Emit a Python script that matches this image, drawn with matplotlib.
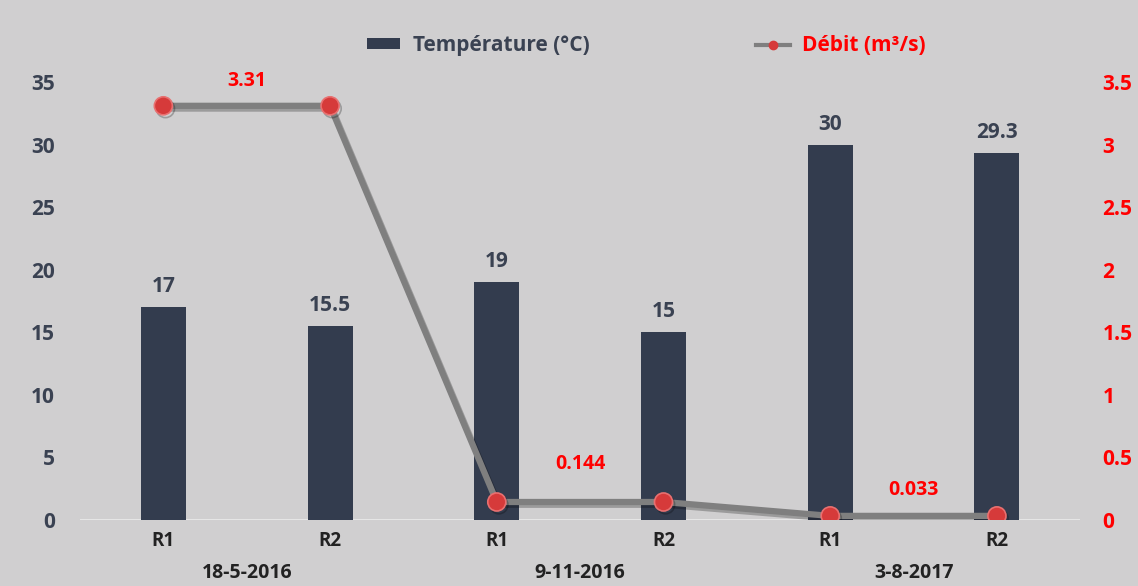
import matplotlib.pyplot as plt
import matplotlib.patheffects as pe
from matplotlib.lines import Line2D
from matplotlib.patches import Patch

plt.rcParams['font.family'] = ['Open Sans', 'DejaVu Sans']

sites = ['R1', 'R2', 'R1', 'R2', 'R1', 'R2']
dates = ['18-5-2016', '9-11-2016', '3-8-2017']
temperature = [17, 15.5, 19, 15, 30, 29.3]
debit = [3.31, 3.31, 0.144, 0.144, 0.033, 0.033]
debit_labels = ['3.31', '0.144', '0.033']

bg = '#d0cfd0'
bar_color = '#333c4e'
red = '#ff0000'
dark = '#3a4252'

fig = plt.figure(figsize=(11.38, 5.86), dpi=100, facecolor=bg)
ax = fig.add_axes([0.0703, 0.1126, 0.879, 0.7474], facecolor=bg)
ax2 = ax.twinx()

x = list(range(len(sites)))
ax.bar(x, temperature, width=0.27, color=bar_color, zorder=2)
for xi, v in zip(x, temperature):
    ax.text(xi, v + 0.8, f'{v:g}', ha='center', va='bottom', fontsize=15,
            fontweight='bold', color=dark)

ax.set_xlim(-0.5, 5.5)
ax.set_ylim(0, 35)
ax.set_yticks(range(0, 36, 5))
ax.axhline(0, color='#e6e6e6', lw=1.5, zorder=1)
for s in ax.spines.values():
    s.set_visible(False)
for s in ax2.spines.values():
    s.set_visible(False)
ax.tick_params(axis='y', length=0, pad=18, labelsize=15, labelcolor=dark)
for t in ax.get_yticklabels():
    t.set_fontweight('bold')
ax.set_xticks(x)
ax.set_xticklabels(sites, fontsize=13.5, fontweight='bold', color='#222222')
ax.tick_params(axis='x', length=0, pad=8)

for i, d in enumerate(dates):
    ax.text(2 * i + 0.5, -0.098, d, transform=ax.get_xaxis_transform(),
            ha='center', va='top', fontsize=14, fontweight='bold', color='#222222')

ax2.plot(x, debit, color='#7f7f7f', lw=4.5, zorder=3,
         marker='o', markersize=13, markerfacecolor='#d63a3a',
         markeredgecolor='#e87070', markeredgewidth=1.2,
         path_effects=[pe.SimpleLineShadow(offset=(1.5, -2), alpha=0.25), pe.Normal()])
ax2.set_ylim(0, 3.5)
ax2.set_yticks([0, 0.5, 1, 1.5, 2, 2.5, 3, 3.5])
ax2.set_yticklabels(['0', '0.5', '1', '1.5', '2', '2.5', '3', '3.5'])
ax2.tick_params(axis='y', length=0, pad=16, labelsize=15, labelcolor=red)
for t in ax2.get_yticklabels():
    t.set_fontweight('bold')

label_y = [3.31 + 0.12, 0.144 + 0.22, 0.033 + 0.13]
for i, (lab, ly) in enumerate(zip(debit_labels, label_y)):
    ax2.text(2 * i + 0.5, ly, lab, ha='center', va='bottom', fontsize=14,
             fontweight='bold', color=red)

handles = [Patch(facecolor=bar_color, edgecolor='none'),
           Line2D([], [], color='#7f7f7f', lw=3, marker='o', markersize=6,
                  markerfacecolor='#d63a3a', markeredgecolor='#d63a3a')]
leg = fig.legend(handles, ['Température (°C)', 'Débit (m³/s)'], loc='center',
                 bbox_to_anchor=(0.568, 0.922), ncol=2, frameon=False,
                 columnspacing=8, handlelength=1.6,
                 handleheight=0.4, handletextpad=0.6,
                 prop={'weight': 'bold', 'size': 15})
leg.get_texts()[0].set_color(dark)
leg.get_texts()[1].set_color(red)

fig.savefig('out.png', dpi=100, facecolor=bg)
